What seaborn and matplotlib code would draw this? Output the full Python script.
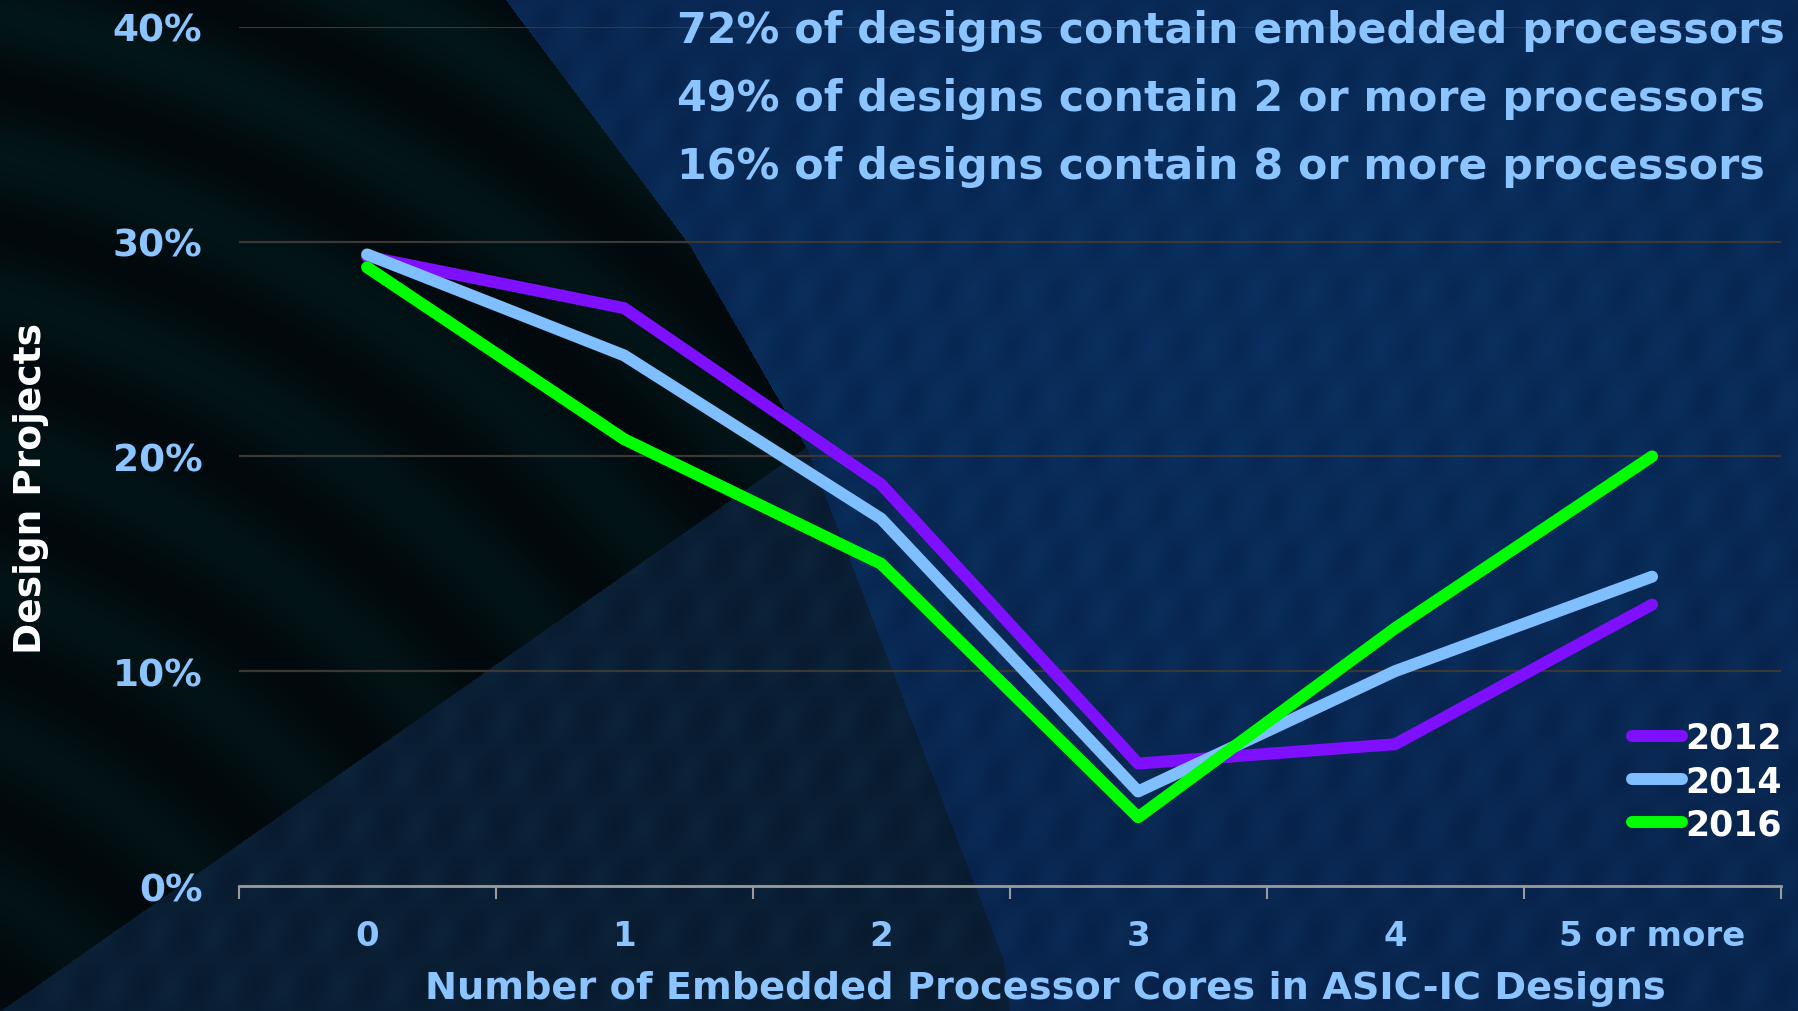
import numpy as np
import pandas as pd
import matplotlib
matplotlib.use("Agg")
import matplotlib.pyplot as plt
import seaborn as sns

# ---- data -------------------------------------------------------------
categories = ["0", "1", "2", "3", "4", "5 or more"]
years = ["2012", "2014", "2016"]
share_2012 = [29.3, 26.9, 18.7, 5.7, 6.6, 13.1]
share_2014 = [29.4, 24.7, 17.1, 4.4, 10.0, 14.4]
share_2016 = [28.8, 20.8, 15.0, 3.2, 12.0, 20.0]
y_ticks = [0, 10, 20, 30, 40]
y_tick_labels = ["0%", "10%", "20%", "30%", "40%"]
headline = [
    "72% of designs contain embedded processors",
    "49% of designs contain 2 or more processors",
    "16% of designs contain 8 or more processors",
]
line_colors = ["#7f0fff", "#80bfff", "#00ff00"]

df = pd.DataFrame({
    "cores": categories * 3,
    "share": share_2012 + share_2014 + share_2016,
    "year": [y for y in years for _ in categories],
})

# ---- style ------------------------------------------------------------
sns.set_theme(style="dark")
plt.rcParams["font.family"] = ["DejaVu Sans"]
plt.rcParams["font.weight"] = "bold"
plt.rcParams["axes.labelweight"] = "bold"

W, H = 1799, 1012
fig = plt.figure(figsize=(W / 100, H / 100), dpi=100)
fig.patch.set_facecolor("#020c12")

# ---- backdrop: dark teal field on the left, navy field on the right ----
bg = fig.add_axes([0, 0, 1, 1])
bg.set_axis_off()
yy, xx = np.mgrid[0:H, 0:W].astype(float)
edge_x = np.interp(yy, [0, 247, 450, 960, 1012], [505, 690, 807, 1003, 1010])
navy = xx > edge_x
wedge = (yy > 1012 - 0.70 * xx) & ~navy

img = np.zeros((H, W, 3))
img[...] = [0.008, 0.035, 0.050]
# faint curved bands in the dark field
r = np.hypot(xx + 300, yy - 1400)
bands = 0.5 + 0.5 * np.sin(r / 22.0)
img[..., 1] += 0.050 * bands * (1 - yy / H * 0.3)
img[..., 2] += 0.045 * bands * (1 - yy / H * 0.3)
img[wedge] = [0.035, 0.105, 0.185]
img[navy] = [0.030, 0.130, 0.285]
streak = 0.5 + 0.5 * np.sin(xx / 9.0 + yy / 30.0) * np.sin(yy / 17.0)
img[..., 0] += 0.010 * streak * (navy | wedge)
img[..., 1] += 0.030 * streak * (navy | wedge)
img[..., 2] += 0.040 * streak * (navy | wedge)
glow = np.exp(-((xx - 1300) ** 2 / 6e5 + (yy - 300) ** 2 / 2e5))
img[..., 1] += 0.03 * glow * navy
img[..., 2] += 0.05 * glow * navy
img = np.clip(img, 0, 1)
bg.imshow(img, extent=(0, W, H, 0), aspect="auto", interpolation="bilinear")
bg.set_xlim(0, W)
bg.set_ylim(H, 0)

# ---- main chart -------------------------------------------------------
ax = fig.add_axes([238.6 / W, 1 - 887 / H, 1542 / W, 859.3 / H])
ax.set_facecolor("none")

sns.lineplot(
    data=df, x="cores", y="share", hue="year", palette=line_colors,
    linewidth=8.6, sort=False, legend=False, ax=ax,
    solid_capstyle="round", zorder=3,
)

ax.set_xlim(-0.5, 5.5)
ax.set_ylim(0, 40)
ax.set_yticks(y_ticks)
ax.set_yticklabels(y_tick_labels)
ax.set_xticks(range(len(categories)))
ax.set_xticklabels(categories)
ax.set_xticks(np.arange(-0.5, 5.6, 1.0), minor=True)

tick_color = "#8cc4ff"
ax.tick_params(axis="y", length=0, pad=26, labelsize=27, labelcolor=tick_color)
ax.tick_params(axis="x", which="major", length=0, pad=24, labelsize=24.5,
               labelcolor=tick_color)
ax.tick_params(axis="x", which="minor", length=9.5, width=1.5,
               color="#9a9a9a", direction="out", bottom=True)

ax.yaxis.grid(True, color="#3b3834", linewidth=1.6)
ax.xaxis.grid(False)
for side in ["top", "right", "left"]:
    ax.spines[side].set_visible(False)
ax.spines["bottom"].set_color("#9a9a9a")
ax.spines["bottom"].set_linewidth(2)
ax.spines["bottom"].set_zorder(2)

ax.set_xlabel("Number of Embedded Processor Cores in ASIC-IC Designs",
              fontsize=27.5, color=tick_color)
ax.xaxis.set_label_coords(0.523, -0.1187)
ax.xaxis.label.set_va("center")
ax.set_ylabel("Design Projects", fontsize=27, color="white")
ax.yaxis.set_label_coords(-0.1346, 0.464)
ax.yaxis.label.set_va("center")

leg = ax.legend(
    ax.lines[:3], years, loc="upper right", frameon=False,
    bbox_to_anchor=(1782 / W, 1 - 722 / H), bbox_transform=fig.transFigure,
    fontsize=25, labelcolor="white", handlelength=1.45, handletextpad=0.1,
    labelspacing=0.26, borderpad=0, borderaxespad=0,
)

for i, line in enumerate(headline):
    fig.text(677 / W, 1 - (43 + 68 * i) / H, line, ha="left", va="baseline",
             fontsize=30.8, color=tick_color, fontweight="bold")

fig.savefig("out.png", dpi=100, facecolor=fig.get_facecolor())
